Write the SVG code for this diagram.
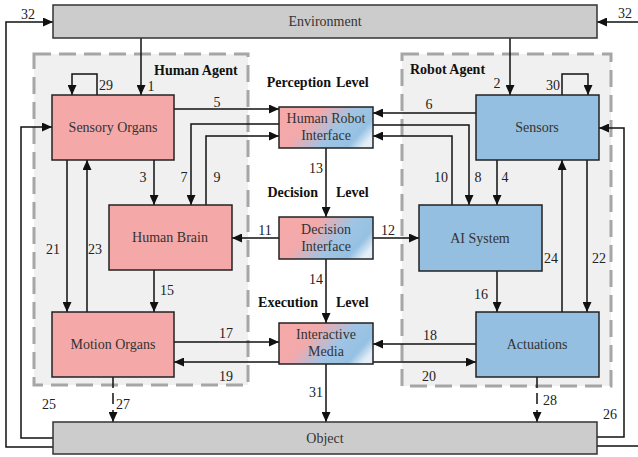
<svg xmlns="http://www.w3.org/2000/svg" width="638" height="457" viewBox="0 0 638 457" font-family="'Liberation Serif', 'Times New Roman', Times, serif">
  <style>
    .bar { fill: #cccccc; stroke: #333333; stroke-width: 1.5; }
    .panel { fill: #f0f0f0; stroke: #a6a6a6; stroke-width: 3; stroke-dasharray: 17 8; }
    .human { fill: #f4a9a8; stroke: #222222; stroke-width: 1.5; }
    .robot { fill: #94bfe0; stroke: #222222; stroke-width: 1.5; }
    .iface { fill: url(#mix); stroke: #222222; stroke-width: 1.5; }
    text { font-family: 'Liberation Serif', 'Times New Roman', Times, serif; font-size: 14px; }
    .lbl { fill: #333333; text-anchor: middle; }
    .num { fill: #222222; text-anchor: middle; }
    .hdr { font-weight: bold; fill: #111111; }
    .wire { fill: none; stroke: #111111; stroke-width: 1.5; marker-end: url(#ah); }
  </style>
  <defs>
    <marker id="ah" markerWidth="10" markerHeight="9" refX="10" refY="4.5" orient="auto" markerUnits="userSpaceOnUse">
      <path d="M0,0 L10,4.5 L0,9 Z" fill="#111111"/>
    </marker>
    <linearGradient id="mix" x1="0" y1="0.3" x2="1" y2="0.7">
      <stop offset="0" stop-color="#f6a9a9"/>
      <stop offset="0.3" stop-color="#f3a9ab"/>
      <stop offset="0.62" stop-color="#9fc4e4"/>
      <stop offset="0.86" stop-color="#96c1e2"/>
      <stop offset="1" stop-color="#e4eef8"/>
    </linearGradient>
  </defs>

  <!-- agent panels -->
  <g id="human-agent">
    <rect class="panel" x="34" y="54" width="214" height="331"/>
    <text class="hdr" x="154" y="75">Human Agent</text>
  </g>
  <g id="robot-agent">
    <rect class="panel" x="402" y="54" width="209" height="332"/>
    <text class="hdr" x="410" y="74">Robot Agent</text>
  </g>

  <!-- level headings -->
  <g id="levels">
    <text class="hdr" x="331" y="87" text-anchor="end">Perception</text>
    <text class="hdr" x="336" y="87">Level</text>
    <text class="hdr" x="318" y="197" text-anchor="end">Decision</text>
    <text class="hdr" x="336" y="197">Level</text>
    <text class="hdr" x="318" y="307" text-anchor="end">Execution</text>
    <text class="hdr" x="336" y="307">Level</text>
  </g>

  <!-- connectors -->
  <g id="connectors">
    <path class="wire" d="M141,38 V95"/>
    <path class="wire" d="M510,38 V95"/>
    <path class="wire" d="M97,95 V74 H72 V95"/>
    <path class="wire" d="M562,95 V74 H588 V95"/>
    <path class="wire" d="M174,109 H279"/>
    <path class="wire" d="M476,113 H373"/>
    <path class="wire" d="M279,124 H191 V205"/>
    <path class="wire" d="M206,205 V136 H279"/>
    <path class="wire" d="M373,125 H469 V205"/>
    <path class="wire" d="M452,205 V136 H373"/>
    <path class="wire" d="M154,160 V205"/>
    <path class="wire" d="M497,160 V205"/>
    <path class="wire" d="M67,160 V312"/>
    <path class="wire" d="M87,312 V160"/>
    <path class="wire" d="M587,160 V312"/>
    <path class="wire" d="M562,312 V160"/>
    <path class="wire" d="M326,148 V217"/>
    <path class="wire" d="M279,238 H232"/>
    <path class="wire" d="M373,238 H419"/>
    <path class="wire" d="M326,259 V323"/>
    <path class="wire" d="M154,270 V312"/>
    <path class="wire" d="M497,271 V312"/>
    <path class="wire" d="M174,342 H279"/>
    <path class="wire" d="M279,362 H174"/>
    <path class="wire" d="M476,344 H373"/>
    <path class="wire" d="M373,362 H476"/>
    <path class="wire" d="M326,364 V422"/>
    <path class="wire" d="M113,377 V422" stroke-dasharray="11 5 11 6 20"/>
    <path class="wire" d="M537,377 V422" stroke-dasharray="11 5 11 6 20"/>
    <path class="wire" d="M53,438 H21 V127 H52"/>
    <path class="wire" d="M597,437 H624 V128 H599"/>
    <path class="wire" d="M53,447 H6 V22 H53"/>
    <path class="wire" d="M597,446 H645 V22 H597"/>

    <text class="num" x="151" y="91">1</text>
    <text class="num" x="497" y="88">2</text>
    <text class="num" x="106" y="90">29</text>
    <text class="num" x="553" y="90">30</text>
    <text class="num" x="217" y="107">5</text>
    <text class="num" x="429" y="109">6</text>
    <text class="num" x="143" y="182">3</text>
    <text class="num" x="184" y="182">7</text>
    <text class="num" x="217" y="182">9</text>
    <text class="num" x="441" y="182">10</text>
    <text class="num" x="478" y="182">8</text>
    <text class="num" x="505" y="182">4</text>
    <text class="num" x="316" y="173">13</text>
    <text class="num" x="265" y="235">11</text>
    <text class="num" x="388" y="235">12</text>
    <text class="num" x="53" y="254">21</text>
    <text class="num" x="95" y="254">23</text>
    <text class="num" x="551" y="263">24</text>
    <text class="num" x="599" y="263">22</text>
    <text class="num" x="316" y="284">14</text>
    <text class="num" x="167" y="295">15</text>
    <text class="num" x="481" y="299">16</text>
    <text class="num" x="226" y="338">17</text>
    <text class="num" x="430" y="340">18</text>
    <text class="num" x="226" y="381">19</text>
    <text class="num" x="429" y="381">20</text>
    <text class="num" x="316" y="397">31</text>
    <text class="num" x="49" y="409">25</text>
    <text class="num" x="123" y="409">27</text>
    <text class="num" x="550" y="405">28</text>
    <text class="num" x="610" y="419">26</text>
    <text class="num" x="28" y="19">32</text>
    <text class="num" x="625" y="18">32</text>
  </g>

  <!-- nodes -->
  <g id="environment">
    <rect class="bar" x="53" y="5" width="544" height="33"/>
    <text class="lbl" x="325" y="26">Environment</text>
  </g>
  <g id="object">
    <rect class="bar" x="53" y="422" width="544" height="32"/>
    <text class="lbl" x="325" y="443">Object</text>
  </g>
  <g id="sensory-organs">
    <rect class="human" x="52" y="95" width="122" height="65"/>
    <text class="lbl" x="113" y="132">Sensory Organs</text>
  </g>
  <g id="human-brain">
    <rect class="human" x="109" y="205" width="123" height="65"/>
    <text class="lbl" x="170" y="242">Human Brain</text>
  </g>
  <g id="motion-organs">
    <rect class="human" x="52" y="312" width="122" height="65"/>
    <text class="lbl" x="113" y="349">Motion Organs</text>
  </g>
  <g id="sensors">
    <rect class="robot" x="476" y="95" width="123" height="65"/>
    <text class="lbl" x="537" y="132">Sensors</text>
  </g>
  <g id="ai-system">
    <rect class="robot" x="419" y="205" width="123" height="66"/>
    <text class="lbl" x="480" y="243">AI System</text>
  </g>
  <g id="actuations">
    <rect class="robot" x="476" y="312" width="123" height="65"/>
    <text class="lbl" x="537" y="349">Actuations</text>
  </g>
  <g id="human-robot-interface">
    <rect class="iface" x="279" y="107" width="94" height="41"/>
    <text class="lbl" x="326" y="123">Human Robot</text>
    <text class="lbl" x="326" y="140">Interface</text>
  </g>
  <g id="decision-interface">
    <rect class="iface" x="279" y="217" width="94" height="42"/>
    <text class="lbl" x="326" y="234">Decision</text>
    <text class="lbl" x="326" y="251">Interface</text>
  </g>
  <g id="interactive-media">
    <rect class="iface" x="279" y="323" width="94" height="41"/>
    <text class="lbl" x="326" y="339">Interactive</text>
    <text class="lbl" x="326" y="356">Media</text>
  </g>
</svg>
